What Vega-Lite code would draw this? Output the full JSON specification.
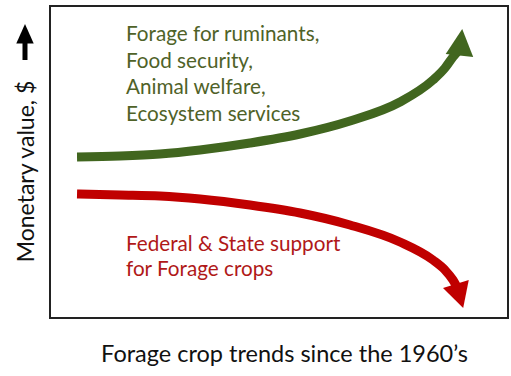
{
  "$schema": "https://vega.github.io/schema/vega-lite/v6.json",
  "width": 458,
  "height": 312,
  "autosize": {"type": "none"},
  "padding": {"left": 50, "top": 6, "right": 3, "bottom": 58},
  "background": "white",
  "config": {
    "view": {"stroke": "#222222", "strokeWidth": 2},
    "font": "Lato",
    "axis": {"grid": false, "ticks": false, "labels": false, "domain": false, "titleFont": "Lato", "titleFontWeight": "normal", "titleColor": "#111111"}
  },
  "datasets": {
    "green": [
      {"t": 5.9, "v": 51.6}, {"t": 15.28, "v": 51.92}, {"t": 24.02, "v": 52.56}, {"t": 32.75, "v": 53.85},
      {"t": 43.67, "v": 56.09}, {"t": 54.59, "v": 58.97}, {"t": 65.5, "v": 63.14}, {"t": 76.42, "v": 69.23},
      {"t": 83.62, "v": 76.28}, {"t": 86.24, "v": 80.13}, {"t": 87.99, "v": 83.65}, {"t": 89.08, "v": 85.58}
    ],
    "red": [
      {"t": 5.9, "v": 39.74}, {"t": 15.28, "v": 39.42}, {"t": 24.02, "v": 39.1}, {"t": 32.75, "v": 38.14},
      {"t": 43.67, "v": 36.22}, {"t": 54.59, "v": 33.65}, {"t": 65.5, "v": 29.81}, {"t": 76.42, "v": 24.36},
      {"t": 83.62, "v": 18.59}, {"t": 86.24, "v": 15.38}, {"t": 87.99, "v": 12.18}, {"t": 88.86, "v": 9.94}
    ],
    "labels": [
      {"t": 16.59, "v": 90.7, "text": "Forage for ruminants,", "group": "up"},
      {"t": 16.59, "v": 82.05, "text": "Food security,", "group": "up"},
      {"t": 16.59, "v": 73.72, "text": "Animal welfare,", "group": "up"},
      {"t": 16.59, "v": 65.06, "text": "Ecosystem services", "group": "up"},
      {"t": 16.59, "v": 23.4, "text": "Federal & State support", "group": "down"},
      {"t": 16.59, "v": 15.38, "text": "for Forage crops", "group": "down"}
    ]
  },
  "encoding": {
    "x": {"field": "t", "type": "quantitative", "scale": {"domain": [0, 100], "nice": false, "zero": false},
      "axis": {"title": "Forage crop trends since the 1960’s", "titleFontSize": 23.5, "titleX": 234, "titleY": 43, "titleBaseline": "alphabetic", "titleAnchor": null, "titleAlign": "center"}},
    "y": {"field": "v", "type": "quantitative", "scale": {"domain": [0, 100], "nice": false, "zero": false},
      "axis": {"title": "Monetary value, $", "titleFontSize": 23, "titleX": -24, "titleY": 165, "titleAngle": -90, "titleBaseline": "middle", "titleAlign": "center"}}
  },
  "layer": [
    {"data": {"name": "green"}, "mark": {"type": "line", "color": "#41661f", "strokeWidth": 9, "interpolate": "monotone", "strokeCap": "butt"}},
    {"data": {"name": "red"}, "mark": {"type": "line", "color": "#c00000", "strokeWidth": 9, "interpolate": "monotone", "strokeCap": "butt"}},
    {"data": {"values": [{"t": 89.41, "v": 84.29}]},
      "mark": {"type": "point", "shape": "M0,-1L0.53,0.02L-0.53,0.02Z", "filled": true, "color": "#41661f", "opacity": 1, "size": 2725, "angle": 6}},
    {"data": {"values": [{"t": 88.65, "v": 10.74}]},
      "mark": {"type": "point", "shape": "M0,-1L0.55,0.02L-0.55,0.02Z", "filled": true, "color": "#c00000", "opacity": 1, "size": 2401, "angle": 163}},
    {"data": {"values": [{"t": -5.46, "v": 82.69, "v2": 88.5}]},
      "mark": {"type": "rule", "color": "#000000", "strokeWidth": 5, "strokeCap": "butt"},
      "encoding": {"y2": {"field": "v2"}}},
    {"data": {"values": [{"t": -5.46, "v": 88.0}]},
      "mark": {"type": "point", "shape": "M0,-1L0.45,0L-0.45,0Z", "filled": true, "color": "#000000", "opacity": 1, "size": 1500}},
    {"data": {"name": "labels"},
      "mark": {"type": "text", "align": "left", "baseline": "middle", "font": "Lato", "fontSize": 20.7},
      "encoding": {
        "text": {"field": "text"},
        "color": {"field": "group", "type": "nominal", "scale": {"domain": ["up", "down"], "range": ["#4f6228", "#b01818"]}, "legend": null}
      }}
  ]
}
